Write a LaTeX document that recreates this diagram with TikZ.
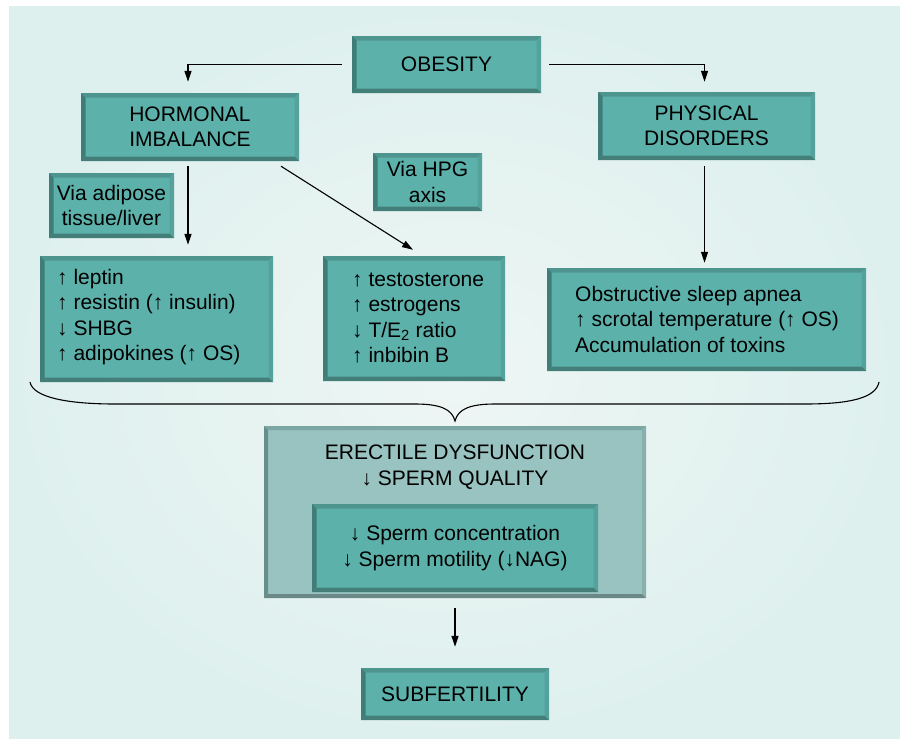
\documentclass[tikz,border=0pt]{standalone}
\usepackage{fontspec}
\setmainfont{Liberation Sans}
\usetikzlibrary{arrows.meta}
\definecolor{bgA}{HTML}{DEF0EE}
\definecolor{bgB}{HTML}{EEF6F4}
\definecolor{tfill}{HTML}{5CB2AB}
\definecolor{tT}{HTML}{4F958F}
\definecolor{tL}{HTML}{3F7D78}
\definecolor{tB}{HTML}{437E79}
\definecolor{tR}{HTML}{55A19B}
\definecolor{gfill}{HTML}{98C3C0}
\definecolor{gT}{HTML}{7CA6A3}
\definecolor{gL}{HTML}{688E8B}
\definecolor{gB}{HTML}{6A8885}
\definecolor{gR}{HTML}{88B0AD}
\newcommand\bevelpic[5]{%
  \coordinate (pnw) at (path picture bounding box.north west);
  \coordinate (pse) at (path picture bounding box.south east);
  \coordinate (pne) at (pnw -| pse);
  \coordinate (psw) at (pnw |- pse);
  \fill[#1] (pnw) -- (pne) -- ([shift={(-#5,-#5)}]pne) -- ([shift={(#5,-#5)}]pnw) -- cycle;
  \fill[#4] (pne) -- (pse) -- ([shift={(-#5,#5)}]pse) -- ([shift={(-#5,-#5)}]pne) -- cycle;
  \fill[#3] (pse) -- (psw) -- ([shift={(#5,#5)}]psw) -- ([shift={(-#5,#5)}]pse) -- cycle;
  \fill[#2] (psw) -- (pnw) -- ([shift={(#5,-#5)}]pnw) -- ([shift={(#5,#5)}]psw) -- cycle;
}
\tikzset{
  tbox/.style={rectangle, fill=tfill, inner sep=0pt, align=center,
    font=\fontsize{21}{25.5}\selectfont,
    path picture={\bevelpic{tT}{tL}{tB}{tR}{4.5pt}}},
  gbox/.style={rectangle, fill=gfill, inner sep=0pt, align=center,
    path picture={\bevelpic{gT}{gL}{gB}{gR}{4pt}}},
  txt/.style={inner sep=0pt, align=left, anchor=west,
    font=\fontsize{21}{25.5}\selectfont},
  ctxt/.style={inner sep=0pt, align=center,
    font=\fontsize{21}{25.5}\selectfont},
  arr/.style={line width=1.1pt, -{Triangle[width=7pt,length=11pt]}},
  ln/.style={line width=1.1pt},
}
\begin{document}
\begin{tikzpicture}[x=1pt,y=-1pt]
\useasboundingbox (0,0) rectangle (900,739);
\fill[white] (0,0) rectangle (900,739);
\shade[inner color=bgB, outer color=bgA] (9,6) rectangle (900,739);

% top level
\node[tbox, minimum width=189pt, minimum height=57pt] (ob) at (446.5,64.5) {OBESITY};
\node[tbox, minimum width=218pt, minimum height=68pt] (horm) at (190,127) {HORMONAL\\IMBALANCE};
\node[tbox, minimum width=217pt, minimum height=68pt] (phys) at (706.5,126) {PHYSICAL\\DISORDERS};
\node[tbox, minimum width=125pt, minimum height=65pt] (adip) at (111.5,205.5) {Via adipose\\tissue/liver};
\node[tbox, minimum width=109pt, minimum height=58pt] (hpg) at (427.5,182) {Via HPG\\axis};

% list boxes
\node[tbox, minimum width=233pt, minimum height=126pt] (ll) at (156.5,319) {};
\node[txt] (llt) at (57,317) {↑ leptin\\↑ resistin (↑ insulin)\\↓ SHBG\\↑ adipokines (↑ OS)};
\node[tbox, minimum width=182pt, minimum height=125pt] (ml) at (414,318.5) {};
\node[txt] (mlt) at (352,318) {↑ testosterone\\↑ estrogens\\↓ T/E\textsubscript{2} ratio\\↑ inbibin B};
\node[tbox, minimum width=319pt, minimum height=103pt] (rl) at (706.5,319.5) {};
\node[txt] (rlt) at (575,319) {Obstructive sleep apnea\\↑ scrotal temperature (↑ OS)\\Accumulation of toxins};

% erectile
\node[gbox, minimum width=382pt, minimum height=172pt] (ed) at (455,512) {};
\node[ctxt] (edt) at (455,467) {ERECTILE DYSFUNCTION\\↓ SPERM QUALITY};
\node[tbox, minimum width=286pt, minimum height=88pt] (sp) at (455,548) {↓ Sperm concentration\\↓ Sperm motility (↓NAG)};
\node[tbox, minimum width=188pt, minimum height=52pt] (sub) at (455,694) {SUBFERTILITY};

% connectors
\coordinate (obL) at ([xshift=-10pt]ob.west);
\coordinate (obR) at ([xshift=8pt]ob.east);
\coordinate (hd) at (horm.south |- ll.north);
\coordinate (pd) at (phys.south |- rl.north);
\draw[arr] (obL) -| ([xshift=-2pt,yshift=11pt]horm.north);
\draw[arr] (obR) -| ([xshift=-2pt,yshift=10pt]phys.north);
\draw[arr] ([xshift=-2pt,yshift=-5pt]horm.south) -- ([xshift=-2pt,yshift=11pt]hd);
\draw[arr] ([xshift=91pt,yshift=-5pt]horm.south) -- ([xshift=-1pt,yshift=6pt]ml.north);
\draw[arr] ([xshift=-2pt,yshift=-6pt]phys.south) -- ([xshift=-2pt,yshift=5pt]pd);
\draw[arr] ([yshift=-10pt]ed.south) -- ([yshift=21pt]sub.north);

% brace
\coordinate (bl) at (30,382);
\coordinate (br) at (879,382);
\coordinate (bt) at (455,421);
\draw[ln] (bl) .. controls (33,398) and (70,404) .. (115,404) -- (415,404)
  .. controls (440,404) and (452,409) .. (bt)
  .. controls (458,409) and (470,404) .. (495,404) -- (805,404)
  .. controls (850,404) and (876,398) .. (br);
\end{tikzpicture}
\end{document}
